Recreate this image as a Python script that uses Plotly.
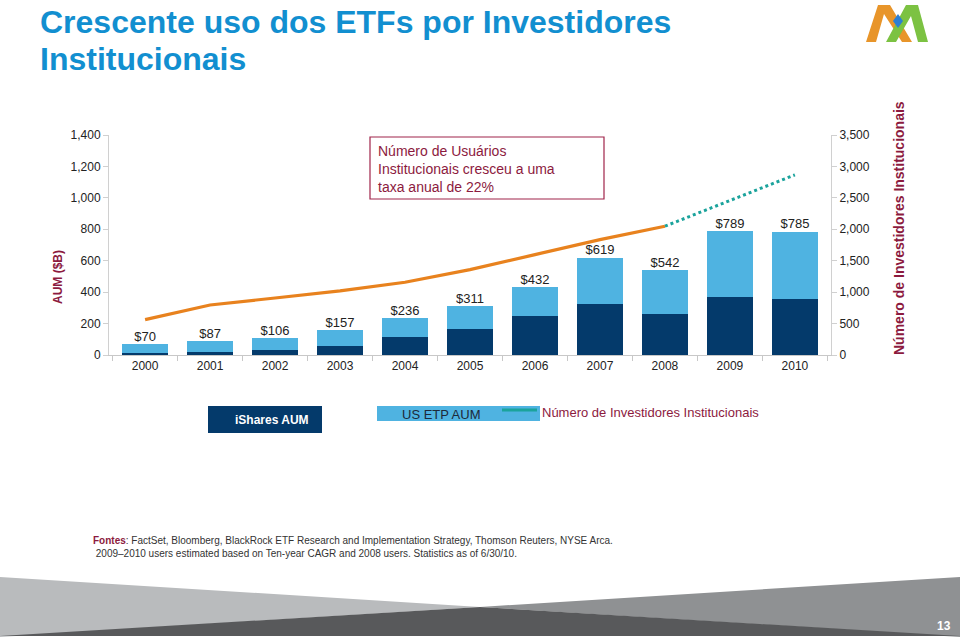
import plotly.graph_objects as go

years = ["2000", "2001", "2002", "2003", "2004", "2005", "2006", "2007", "2008", "2009", "2010"]
us_etp_total = [70, 87, 106, 157, 236, 311, 432, 619, 542, 789, 785]
ishares_aum = [12, 17, 33, 60, 115, 168, 246, 327, 261, 369, 356]
total_labels = ["$70", "$87", "$106", "$157", "$236", "$311", "$432", "$619", "$542", "$789", "$785"]
investors_years = ["2000", "2001", "2002", "2003", "2004", "2005", "2006", "2007", "2008"]
investors = [562, 796, 907, 1019, 1157, 1358, 1597, 1836, 2049]
est_years = ["2008", "2009", "2010"]
est_investors = [2049, 2457, 2866]

left_ticks = [0, 200, 400, 600, 800, 1000, 1200, 1400]
right_ticks = [0, 500, 1000, 1500, 2000, 2500, 3000, 3500]

NAVY = "#043a6b"
LIGHT = "#4fb3e1"
ORANGE = "#e8821e"
TEAL = "#1ba39c"
RED = "#8c1a3e"
BLUE_T = "#128fd0"
FONT = "Liberation Sans, Arial, sans-serif"
NARROW = "Liberation Sans Narrow, Arial Narrow, Liberation Sans, sans-serif"

# plot area in pixels
L, T, W, H = 109, 135, 722, 220


def X(px):
    return (px - L) / W


def Y(py):
    return (T + H - py) / H


def path(points):
    s = "M " + " L ".join(f"{X(a):.5f},{Y(b):.5f}" for a, b in points) + " Z"
    return s


light_part = [t - i for t, i in zip(us_etp_total, ishares_aum)]

fig = go.Figure()
fig.add_trace(go.Bar(x=years, y=ishares_aum, marker=dict(color=NAVY, line=dict(width=0)),
                     name="iShares AUM", showlegend=False))
fig.add_trace(go.Bar(x=years, y=light_part, marker=dict(color=LIGHT, line=dict(width=0)),
                     name="US ETP AUM", showlegend=False))
fig.add_trace(go.Scatter(x=years, y=us_etp_total, mode="text", text=total_labels,
                         textposition="top center", textfont=dict(size=13, color="#222", family=FONT),
                         showlegend=False, cliponaxis=False))
fig.add_trace(go.Scatter(x=investors_years, y=investors, mode="lines", yaxis="y2",
                         line=dict(color=ORANGE, width=3.2), showlegend=False))
fig.add_trace(go.Scatter(x=est_years, y=est_investors, mode="lines", yaxis="y2",
                         line=dict(color=TEAL, width=3, dash="dot"), showlegend=False))

shapes = []
# bottom decoration
shapes.append(dict(type="path", xref="paper", yref="paper", path=path([(0, 577), (480, 607), (0, 637)]),
                   fillcolor="#b9bbbd", line=dict(width=0), layer="below"))
shapes.append(dict(type="path", xref="paper", yref="paper", path=path([(960, 577), (480, 607), (960, 637)]),
                   fillcolor="#8f9193", line=dict(width=0), layer="below"))
shapes.append(dict(type="path", xref="paper", yref="paper", path=path([(0, 636), (480, 607), (960, 636)]),
                   fillcolor="#58595b", line=dict(width=0), layer="below"))
# logo
shapes.append(dict(type="path", xref="paper", yref="paper",
                   path=path([(866, 42), (878, 5), (890, 5), (912, 42), (902, 42), (884, 14), (876, 42)]),
                   fillcolor="#e8952a", line=dict(width=0)))
shapes.append(dict(type="path", xref="paper", yref="paper",
                   path=path([(886, 42), (906, 5), (918, 5), (928, 42), (918, 42), (911, 16), (896, 42)]),
                   fillcolor="#7cc242", line=dict(width=0)))
shapes.append(dict(type="path", xref="paper", yref="paper",
                   path=path([(898, 14), (903, 21), (898, 28), (893, 21)]),
                   fillcolor="#2d7fd3", line=dict(width=0)))
# annotation box
shapes.append(dict(type="rect", xref="paper", yref="paper", x0=X(370), x1=X(604), y0=Y(137), y1=Y(199),
                   line=dict(color="#a0244a", width=1.2), fillcolor="white"))
# legend boxes
shapes.append(dict(type="rect", xref="paper", yref="paper", x0=X(208), x1=X(322), y0=Y(406), y1=Y(433),
                   line=dict(width=0), fillcolor=NAVY))
shapes.append(dict(type="rect", xref="paper", yref="paper", x0=X(377), x1=X(540), y0=Y(406), y1=Y(421),
                   line=dict(width=0), fillcolor=LIGHT))
shapes.append(dict(type="line", xref="paper", yref="paper", x0=X(502), x1=X(537), y0=Y(410), y1=Y(410),
                   line=dict(color=TEAL, width=3)))


def ann(text, px, py, **kw):
    d = dict(text=text, x=X(px), y=Y(py), xref="paper", yref="paper", showarrow=False)
    d.update(kw)
    return d


annotations = [
    ann("<b>Crescente uso dos ETFs por Investidores</b>", 38, 22,
        xanchor="left", yanchor="middle", align="left",
        font=dict(size=32, color=BLUE_T, family=FONT)),
    ann("<b>Institucionais</b>", 38, 59,
        xanchor="left", yanchor="middle", align="left",
        font=dict(size=32, color=BLUE_T, family=FONT)),
    ann("Número de Usuários<br>Institucionais cresceu a uma<br>taxa anual de 22%", 376, 141,
        xanchor="left", yanchor="top", align="left",
        font=dict(size=14, color=RED, family=FONT)),
    ann("<b>AUM ($B)</b>", 58, 277, textangle=-90, xanchor="center", yanchor="middle",
        font=dict(size=12, color=RED, family=FONT)),
    ann("<b>Número de Investidores Institucionais</b>", 899, 228, textangle=-90,
        xanchor="center", yanchor="middle", font=dict(size=14, color=RED, family=FONT)),
    ann("<b>iShares AUM</b>", 272, 420, xanchor="center", yanchor="middle",
        font=dict(size=12, color="white", family=NARROW)),
    ann("US ETP AUM", 441, 414, xanchor="center", yanchor="middle",
        font=dict(size=13, color="#1d2a3a", family=NARROW)),
    ann("Número de Investidores Institucionais", 540, 412, xanchor="left", yanchor="middle",
        font=dict(size=13, color=RED, family=NARROW)),
    ann("<b><span style='color:%s'>Fontes</span></b>: FactSet, Bloomberg, BlackRock ETF Research and Implementation Strategy, Thomson Reuters, NYSE Arca.<br> 2009–2010 users estimated based on Ten-year CAGR and 2008 users. Statistics as of 6/30/10." % RED,
        91, 533, xanchor="left", yanchor="top", align="left",
        font=dict(size=10, color="#333", family=NARROW)),
    ann("<b>13</b>", 953, 626, xanchor="right", yanchor="middle",
        font=dict(size=12, color="white", family=NARROW)),
]

fig.update_layout(
    width=960, height=637,
    margin=dict(l=L, r=960 - L - W, t=T, b=637 - T - H, pad=0),
    paper_bgcolor="white", plot_bgcolor="white",
    barmode="stack", bargap=0.29,
    font=dict(family=FONT, size=12, color="#222"),
    xaxis=dict(type="category", showgrid=False, showline=True, linecolor="#c8c8c8", linewidth=1,
               ticks="outside", tickson="boundaries", ticklen=5, tickcolor="#c8c8c8",
               tickfont=dict(size=12, color="#222")),
    yaxis=dict(range=[0, 1400], tickvals=left_ticks, tickformat=",", showgrid=False, zeroline=False,
               showline=True, linecolor="#d0d0d0", ticks="outside", ticklen=5, tickcolor="#d0d0d0",
               tickfont=dict(size=12, color="#222")),
    yaxis2=dict(range=[0, 3500], tickvals=right_ticks, tickformat=",", overlaying="y", side="right",
                showgrid=False, zeroline=False, showline=True, linecolor="#d0d0d0", ticks="outside",
                ticklen=5, tickcolor="#d0d0d0", tickfont=dict(size=12, color="#222")),
    shapes=shapes,
    annotations=annotations,
    showlegend=False,
)

fig.write_html("out.html", config={"displayModeBar": False})

# remove the browser's default 8px page margin so the figure sits at the window's corner
with open("out.html", encoding="utf-8") as f:
    html = f.read()
html = html.replace("<head>", "<head><style>html,body{margin:0;padding:0;overflow:hidden;}</style>", 1)
with open("out.html", "w", encoding="utf-8") as f:
    f.write(html)
